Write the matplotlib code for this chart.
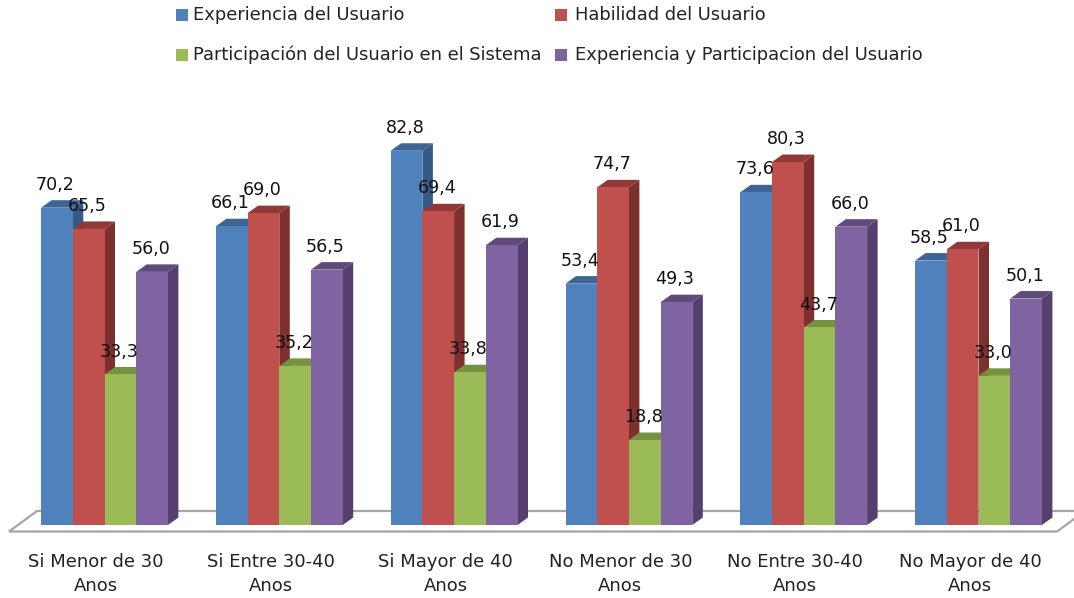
"""3D-look clustered bars of user experience scores by group."""

import matplotlib

matplotlib.use("Agg")
import matplotlib.pyplot as plt
from matplotlib.patches import Polygon, Rectangle

CATEGORIES = [
    "Si Menor de 30\nAnos",
    "Si Entre 30-40\nAnos",
    "Si Mayor de 40\nAnos",
    "No Menor de 30\nAnos",
    "No Entre 30-40\nAnos",
    "No Mayor de 40\nAnos",
]
SERIES_NAMES = [
    "Experiencia del Usuario",
    "Habilidad del Usuario",
    "Participación del Usuario en el Sistema",
    "Experiencia y Participacion del Usuario",
]
EXPERIENCIA = [70.2, 66.1, 82.8, 53.4, 73.6, 58.5]
HABILIDAD = [65.5, 69.0, 69.4, 74.7, 80.3, 61.0]
PARTICIPACION = [33.3, 35.2, 33.8, 18.8, 43.7, 33.0]
EXP_PART = [56.0, 56.5, 61.9, 49.3, 66.0, 50.1]

FRONT = ["#4F81BD", "#C0504D", "#9BBB59", "#8064A2"]
TOP = ["#3C6595", "#8F3A38", "#76923F", "#5F4A7C"]
SIDE = ["#365A85", "#7D302E", "#67803A", "#553F6E"]

W, H = 1074, 598
BASE_PX = 525  # pixel row of the value 0
UNIT_PX = 4.52  # pixels per value unit
GROUP_PX = 174.8
BAR_PX = 31.7
FIRST_PX = 104.5  # centre of the first group
DEPTH_X = 10.5 / GROUP_PX
DEPTH_Y = 7.5 / UNIT_PX
BAR_W = BAR_PX / GROUP_PX


def px_x(px):
    return (px - FIRST_PX) / GROUP_PX


def px_y(px):
    return (BASE_PX - px) / UNIT_PX


def draw_bar(ax, x, value, ix):
    left, right = x - BAR_W / 2, x + BAR_W / 2
    ax.add_patch(Polygon(
        [(right, 0), (right + DEPTH_X, DEPTH_Y), (right + DEPTH_X, value + DEPTH_Y), (right, value)],
        fc=SIDE[ix], ec="none", clip_on=False,
    ))
    ax.add_patch(Polygon(
        [(left, value), (left + DEPTH_X, value + DEPTH_Y), (right + DEPTH_X, value + DEPTH_Y), (right, value)],
        fc=TOP[ix], ec="none", clip_on=False,
    ))
    ax.bar(x, value, BAR_W, color=FRONT[ix], clip_on=False)


def legend_entry(fig, left_px, text_px, row_px, color, name):
    fig.add_artist(Rectangle(
        (left_px / W, 1 - (row_px + 6) / H), 12 / W, 12 / H, transform=fig.transFigure, fc=color, ec="none",
    ))
    fig.text(text_px / W, 1 - row_px / H, name, ha="left", va="center", fontsize=12.85, color="#222222")


fig = plt.figure(figsize=(W / 100, H / 100), dpi=100)
ax = fig.add_axes([0, (H - BASE_PX) / H, 1, BASE_PX / H])
ax.set_xlim(px_x(0), px_x(W))
ax.set_ylim(0, px_y(0))
ax.set_yticks([])
for spine in ax.spines.values():
    spine.set_visible(False)

# floor of the chart
ax.add_patch(Polygon(
    [(px_x(9), px_y(531.5)), (px_x(37), px_y(511)), (px_x(1085), px_y(511)), (px_x(1057), px_y(531.5))],
    fc="white", ec="#A6A6A6", lw=1.6, clip_on=False,
))

all_values = [EXPERIENCIA, HABILIDAD, PARTICIPACION, EXP_PART]
for group in range(len(CATEGORIES)):
    for ix, values in enumerate(all_values):
        x = group + (ix - 1.5) * BAR_W
        draw_bar(ax, x, values[group], ix)
        ax.annotate(
            f"{values[group]:.1f}".replace(".", ","), (x, values[group]),
            xytext=(-1, 16.5), textcoords="offset points",
            ha="center", va="center", fontsize=12.6, color="#111111", zorder=10,
        )

ax.set_xticks([i - 8.5 / GROUP_PX for i in range(len(CATEGORIES))], CATEGORIES)
ax.tick_params(axis="x", length=0, pad=20, labelsize=13, labelcolor="#222222")
for label in ax.get_xticklabels():
    label.set_linespacing(1.45)

legend_entry(fig, 176, 193, 15, FRONT[0], SERIES_NAMES[0])
legend_entry(fig, 555, 575, 15, FRONT[1], SERIES_NAMES[1])
legend_entry(fig, 176, 193, 55, FRONT[2], SERIES_NAMES[2])
legend_entry(fig, 555, 575, 55, FRONT[3], SERIES_NAMES[3])

fig.savefig("out.png", dpi=100)
